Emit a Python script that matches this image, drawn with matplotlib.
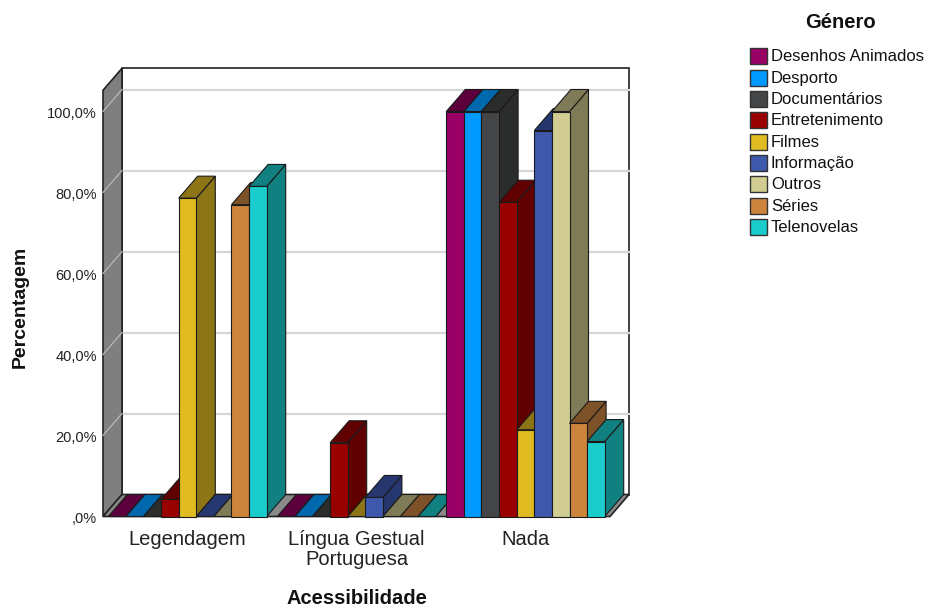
import matplotlib
matplotlib.use("Agg")
import matplotlib.pyplot as plt
import matplotlib.transforms as mtransforms
from matplotlib.patches import Polygon, Rectangle

plt.rcParams["font.family"] = ["Liberation Sans", "DejaVu Sans"]

# ---- data -------------------------------------------------------------
categories = ["Legendagem", "Língua Gestual\nPortuguesa", "Nada"]
genres = ["Desenhos Animados", "Desporto", "Documentários", "Entretenimento",
          "Filmes", "Informação", "Outros", "Séries", "Telenovelas"]

# percentage of each genre per accessibility type
desenhos_animados = [0.0, 0.0, 100.0]
desporto = [0.0, 0.0, 100.0]
documentarios = [0.0, 0.0, 100.0]
entretenimento = [4.2, 18.2, 77.6]
filmes = [78.6, 0.0, 21.4]
informacao = [0.0, 4.7, 95.3]
outros = [0.0, 0.0, 100.0]
series = [77.0, 0.0, 23.0]
telenovelas = [81.5, 0.0, 18.5]

yticks = [0, 20, 40, 60, 80, 100]
ytick_labels = [",0%", "20,0%", "40,0%", "60,0%", "80,0%", "100,0%"]

# ---- styling ------------------------------------------------------------
front_colors = ["#990066", "#0099ff", "#434547", "#990000", "#e1bb22",
                "#3e59ab", "#d1cc91", "#cc843d", "#1bcccc"]
shade_colors = ["#5c003d", "#0068ad", "#2b2d2d", "#610000", "#8c7417",
                "#263770", "#807b57", "#7d5229", "#108080"]

values = [desenhos_animados, desporto, documentarios, entretenimento,
          filmes, informacao, outros, series, telenovelas]

W, H = 932, 613
fig = plt.figure(figsize=(W / 100, H / 100), dpi=100)
fig.patch.set_facecolor("white")

# front plane of the 3-D box (pixels)
x0_px, x1_px = 103, 610
y0_px, y1_px = 516.5, 90.3
ax = fig.add_axes([x0_px / W, (H - y0_px) / H, (x1_px - x0_px) / W, (y0_px - y1_px) / H])

ncat = len(categories)
px_per_pct = 4.05
ymax = (y0_px - y1_px) / px_per_pct
ax.set_xlim(0, ncat)
ax.set_ylim(0, ymax)
for s in ax.spines.values():
    s.set_visible(False)
ax.set_facecolor("none")

# depth offset of the box, converted from pixels to data units
depth_px = (19.0, 22.0)
ddx = depth_px[0] * ncat / (x1_px - x0_px)
ddy = depth_px[1] / px_per_pct


def poly(pts, fc, ec="#1a1a1a", lw=0.8, z=1):
    ax.add_patch(Polygon(pts, closed=True, facecolor=fc, edgecolor=ec,
                         linewidth=lw, clip_on=False, zorder=z, joinstyle="miter"))


# back wall
poly([(ddx, ddy), (ncat + ddx, ddy), (ncat + ddx, ymax + ddy), (ddx, ymax + ddy)],
     "white", ec="#222222", lw=1.2, z=0.5)
# left wall
poly([(0, 0), (ddx, ddy), (ddx, ymax + ddy), (0, ymax)], "#7f7f7f", ec="#222222", lw=1.2, z=0.6)
# floor
poly([(0, 0), (ncat, 0), (ncat + ddx, ddy), (ddx, ddy)], "#8a8a8a", ec="#222222", lw=1.2, z=0.7)

# grid lines on the walls
for t in yticks[1:]:
    ax.plot([ddx, ncat + ddx], [t + ddy, t + ddy], color="#d6d6d6", lw=1.6,
            clip_on=False, zorder=0.55)
    ax.plot([0, ddx], [t, t + ddy], color="#b8b8b8", lw=0.9,
            clip_on=False, zorder=0.65)

# bars, drawn left to right so each front face covers the neighbour's side
bar_w = 17.6 * ncat / (x1_px - x0_px)
group_w = bar_w * len(genres)
z = 2
for c in range(ncat):
    left = c + (1 - group_w) / 2
    for g in range(len(genres)):
        h = values[g][c]
        xl = left + g * bar_w
        xr = xl + bar_w
        # right side
        poly([(xr, 0), (xr + ddx, ddy), (xr + ddx, h + ddy), (xr, h)], shade_colors[g], z=z)
        # top
        poly([(xl, h), (xr, h), (xr + ddx, h + ddy), (xl + ddx, h + ddy)], shade_colors[g], z=z)
        # front
        if h > 0:
            poly([(xl, 0), (xr, 0), (xr, h), (xl, h)], front_colors[g], z=z)
        z += 0.01

# axes ticks and labels
ax.set_yticks(yticks)
ax.set_yticklabels(ytick_labels, fontsize=10.5, va="center")
ax.set_xticks([c + 0.5 for c in range(ncat)])
ax.set_xticklabels(categories, fontsize=14.5, linespacing=1.02, va="top")
ax.tick_params(axis="both", length=0, colors="#222222")
ax.tick_params(axis="y", pad=4.5)
ax.tick_params(axis="x", pad=10)
shift_down = mtransforms.ScaledTranslation(0, -2.5 / 100, fig.dpi_scale_trans)
for lab in ax.get_yticklabels():
    lab.set_transform(lab.get_transform() + shift_down)


def fx(px):
    return px / W


def fy(py):
    return 1 - py / H


fig.text(fx(20), fy(307), "Percentagem", rotation=90, fontsize=14, fontweight="bold",
         ha="center", va="center", color="#111111")
fig.text(fx(357), fy(599), "Acessibilidade", fontsize=14.5, fontweight="bold",
         ha="center", va="center", color="#111111")

# legend
fig.text(fx(840), fy(23), "Género", fontsize=14.5, fontweight="bold",
         ha="center", va="center", color="#111111")
row0, row_step = 56.3, 21.33
for i, name in enumerate(genres):
    cy = row0 + i * row_step
    fig.add_artist(Rectangle((fx(749.5), fy(cy + 8)), 17 / W, 16 / H,
                             transform=fig.transFigure, facecolor=front_colors[i],
                             edgecolor="#333333", linewidth=1.0))
    fig.text(fx(771), fy(cy + 0.5), name, fontsize=12, ha="left", va="center",
             color="#111111")

fig.savefig("out.png", dpi=100, facecolor="white")
